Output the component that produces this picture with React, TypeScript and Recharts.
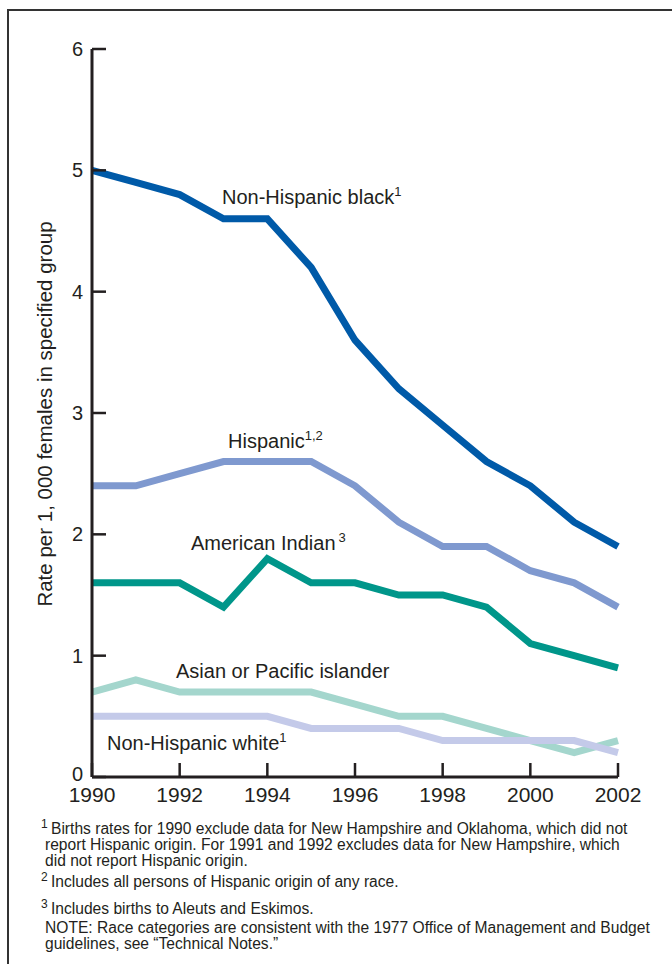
import { Line, LineChart, XAxis, YAxis } from 'recharts'

const years = [1990, 1991, 1992, 1993, 1994, 1995, 1996, 1997, 1998, 1999, 2000, 2001, 2002]
const nonHispanicBlack = [5.0, 4.9, 4.8, 4.6, 4.6, 4.2, 3.6, 3.2, 2.9, 2.6, 2.4, 2.1, 1.9]
const hispanic = [2.4, 2.4, 2.5, 2.6, 2.6, 2.6, 2.4, 2.1, 1.9, 1.9, 1.7, 1.6, 1.4]
const americanIndian = [1.6, 1.6, 1.6, 1.4, 1.8, 1.6, 1.6, 1.5, 1.5, 1.4, 1.1, 1.0, 0.9]
const asianPacific = [0.7, 0.8, 0.7, 0.7, 0.7, 0.7, 0.6, 0.5, 0.5, 0.4, 0.3, 0.2, 0.3]
const nonHispanicWhite = [0.5, 0.5, 0.5, 0.5, 0.5, 0.4, 0.4, 0.4, 0.3, 0.3, 0.3, 0.3, 0.2]
const xTicks = [1990, 1992, 1994, 1996, 1998, 2000, 2002]
const yTicks = [0, 1, 2, 3, 4, 5, 6]

const data = years.map((year, i) => ({
  year,
  black: nonHispanicBlack[i],
  hispanic: hispanic[i],
  amInd: americanIndian[i],
  asian: asianPacific[i],
  white: nonHispanicWhite[i],
}))

const ink = '#231f20'
const font = '"Liberation Sans", Arial, Helvetica, sans-serif'

function XTick({ x, y, payload }: any) {
  return (
    <g>
      <line x1={x} y1={y} x2={x} y2={y - 14} stroke={ink} strokeWidth={2.5} />
      <text x={x} y={y + 25} textAnchor="middle" fontSize={21} fill={ink} fontFamily={font}>
        {payload.value}
      </text>
    </g>
  )
}

function YTick({ x, y, payload }: any) {
  // the zero label sits a touch higher so it clears the 1990 label
  const dy = payload.value === 0 ? 4 : 7
  return (
    <g>
      <line x1={x} y1={y} x2={x + 14} y2={y} stroke={ink} strokeWidth={2.5} />
      <text x={x - 9} y={y + dy} textAnchor="end" fontSize={20} fill={ink} fontFamily={font}>
        {payload.value}
      </text>
    </g>
  )
}

const labelStyle = {
  position: 'absolute' as const,
  fontSize: 20,
  color: ink,
  whiteSpace: 'nowrap' as const,
  lineHeight: '20px',
}
const supStyle = { fontSize: 13, verticalAlign: 'top', position: 'relative' as const, top: -5 }

const noteStyle = {
  position: 'absolute' as const,
  left: 45,
  fontSize: 15.6,
  lineHeight: '16px',
  color: ink,
  whiteSpace: 'nowrap' as const,
}
const noteSup = { position: 'absolute' as const, left: -4, top: -5, fontSize: 12 }

export default function App() {
  return (
    <div
      style={{
        position: 'absolute',
        left: 0,
        top: 0,
        width: 672,
        height: 964,
        overflow: 'hidden',
        background: '#fff',
        fontFamily: font,
      }}
    >
      <div
        style={{
          position: 'absolute',
          left: 7,
          top: 9,
          width: 700,
          height: 1000,
          borderLeft: '2px solid #333',
          borderTop: '2px solid #333',
        }}
      />
      <div style={{ position: 'absolute', left: 0, top: 0 }}>
        <LineChart
          width={672}
          height={810}
          data={data}
          margin={{ top: 49, right: 54, left: 32, bottom: 3 }}
        >
          <XAxis
            dataKey="year"
            type="number"
            domain={[1990, 2002]}
            ticks={xTicks}
            height={30}
            tickSize={0}
            tickMargin={0}
            tickLine={false}
            axisLine={{ stroke: ink, strokeWidth: 3 }}
            tick={<XTick />}
          />
          <YAxis
            type="number"
            domain={[0, 6]}
            ticks={yTicks}
            width={60}
            tickSize={0}
            tickMargin={0}
            tickLine={false}
            axisLine={{ stroke: ink, strokeWidth: 3 }}
            tick={<YTick />}
          />
          <Line dataKey="black" stroke="#005aa8" strokeWidth={7} dot={false} isAnimationActive={false} />
          <Line dataKey="hispanic" stroke="#7f99cf" strokeWidth={7} dot={false} isAnimationActive={false} />
          <Line dataKey="amInd" stroke="#00968a" strokeWidth={7} dot={false} isAnimationActive={false} />
          <Line dataKey="asian" stroke="#a4d6cd" strokeWidth={7} dot={false} isAnimationActive={false} />
          <Line dataKey="white" stroke="#c4cae9" strokeWidth={7} dot={false} isAnimationActive={false} />
        </LineChart>
      </div>

      <div
        style={{
          position: 'absolute',
          left: 45,
          top: 414,
          transform: 'translate(-50%, -50%) rotate(-90deg)',
          fontSize: 20.5,
          color: ink,
          whiteSpace: 'nowrap',
        }}
      >
        Rate per 1, 000 females in specified group
      </div>

      <div style={{ ...labelStyle, left: 222, top: 187 }}>
        Non-Hispanic black<span style={supStyle}>1</span>
      </div>
      <div style={{ ...labelStyle, left: 228, top: 431 }}>
        Hispanic<span style={supStyle}>1,2</span>
      </div>
      <div style={{ ...labelStyle, left: 191, top: 533 }}>
        American Indian<span style={{ ...supStyle, marginLeft: 3 }}>3</span>
      </div>
      <div style={{ ...labelStyle, left: 176, top: 661 }}>Asian or Pacific islander</div>
      <div style={{ ...labelStyle, left: 107, top: 733 }}>
        Non-Hispanic white<span style={supStyle}>1</span>
      </div>

      <div style={{ ...noteStyle, top: 821 }}>
        <span style={noteSup}>1</span>
        <span style={{ marginLeft: 6 }}>
          Births rates for 1990 exclude data for New Hampshire and Oklahoma, which did not
        </span>
        <br />
        report Hispanic origin. For 1991 and 1992 excludes data for New Hampshire, which
        <br />
        did not report Hispanic origin.
      </div>
      <div style={{ ...noteStyle, top: 874 }}>
        <span style={noteSup}>2</span>
        <span style={{ marginLeft: 6 }}>Includes all persons of Hispanic origin of any race.</span>
      </div>
      <div style={{ ...noteStyle, top: 901 }}>
        <span style={noteSup}>3</span>
        <span style={{ marginLeft: 6 }}>Includes births to Aleuts and Eskimos.</span>
      </div>
      <div style={{ ...noteStyle, top: 920 }}>
        NOTE: Race categories are consistent with the 1977 Office of Management and Budget
        <br />
        guidelines, see “Technical Notes.”
      </div>
    </div>
  )
}
